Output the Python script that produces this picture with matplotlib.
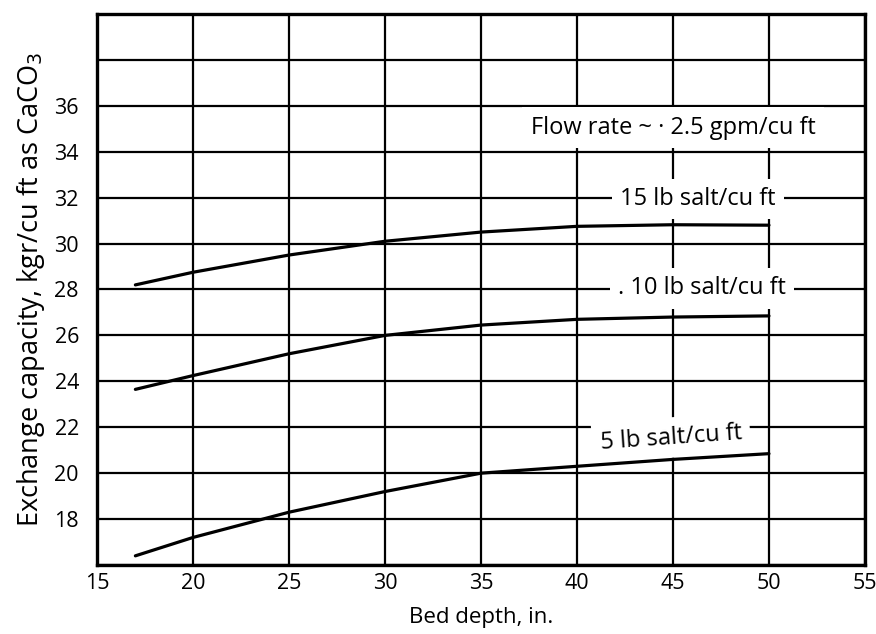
import matplotlib

matplotlib.use("Agg")
import matplotlib.pyplot as plt

# bed depth (in.) and exchange capacity (kgr/cu ft as CaCO3)
bed_depth = [17, 20, 25, 30, 35, 40, 45, 50]
salt_15 = [28.2, 28.75, 29.5, 30.1, 30.5, 30.75, 30.82, 30.8]
salt_10 = [23.65, 24.25, 25.2, 26.0, 26.45, 26.7, 26.8, 26.85]
salt_5 = [16.4, 17.2, 18.3, 19.2, 20.0, 20.3, 20.6, 20.85]

x_ticks = [15, 20, 25, 30, 35, 40, 45, 50, 55]
y_ticks = [16, 18, 20, 22, 24, 26, 28, 30, 32, 34, 36, 38, 40]
y_labels = ["", "18", "20", "22", "24", "26", "28", "30", "32", "34", "36", "", ""]

plt.rcParams["font.family"] = ["Open Sans", "DejaVu Sans"]

fig = plt.figure(figsize=(8.76, 6.34), dpi=100)
ax = fig.add_axes([0.1107, 0.1088, 0.8767, 0.8692])

ax.set_xlim(15, 55)
ax.set_ylim(16, 40)
ax.set_xticks(x_ticks, labels=[str(v) for v in x_ticks])
ax.set_yticks(y_ticks, labels=y_labels)
ax.tick_params(length=0, labelsize=15.5, colors="black")
ax.tick_params(axis="x", pad=6)
ax.tick_params(axis="y", pad=13)
ax.grid(True, color="black", linewidth=1.6, zorder=1)
ax.set_axisbelow(True)
for spine in ax.spines.values():
    spine.set_linewidth(2.4)

for series in (salt_15, salt_10, salt_5):
    ax.plot(bed_depth, series, color="black", linewidth=2.3, solid_capstyle="round", zorder=3)

box = dict(facecolor="white", edgecolor="none", boxstyle="square,pad=0.35")
ax.text(45.0, 35.05, "Flow rate ~ · 2.5 gpm/cu ft", ha="center", va="center",
        fontsize=17, bbox=box, zorder=2)
ax.text(46.3, 31.95, "15 lb salt/cu ft", ha="center", va="center", fontsize=17, bbox=box, zorder=2)
ax.text(46.5, 28.05, ". 10 lb salt/cu ft", ha="center", va="center", fontsize=17, bbox=box, zorder=2)
ax.text(44.9, 21.55, "5 lb salt/cu ft", ha="center", va="center", fontsize=17,
        rotation=4, bbox=box, zorder=2)

ax.set_xlabel("Bed depth, in.", fontsize=16, labelpad=9)
ax.set_ylabel("Exchange capacity, kgr/cu ft as CaCO$_3$", fontsize=19.5, labelpad=5)

fig.savefig("out.png", dpi=100, facecolor="white")
